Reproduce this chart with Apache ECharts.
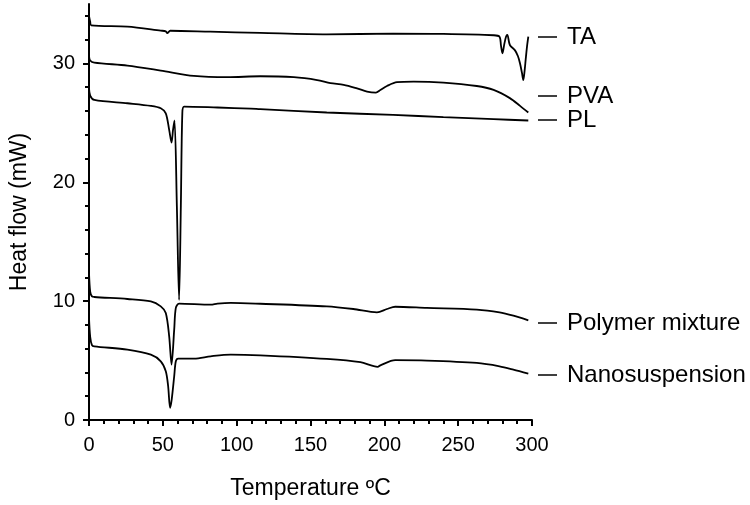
<!DOCTYPE html>
<html><head><meta charset="utf-8">
<script src="https://cdn.jsdelivr.net/npm/echarts@6/dist/echarts.min.js"></script>
<style>html,body{margin:0;padding:0;background:#fff}#c{width:750px;height:505px}</style>
</head><body><div id="c"></div>
<script>
const seriesNames = ['TA', 'PVA', 'PL', 'Polymer mixture', 'Nanosuspension'];
const xTickLabels = [0, 50, 100, 150, 200, 250, 300];
const yTickLabels = [0, 10, 20, 30];
const yMinorTicks = [2, 4, 6, 8, 12, 14, 16, 18, 22, 24, 26, 28, 32, 34];

const taData = [[0,34.0],[0.8,33.5],[1.5,33.2],[26,33.1],[48.6,32.76],[52,32.7],[53,32.55],[55,32.75],[82,32.67],[116,32.57],[161,32.45],[206,32.5],[240,32.48],[274,32.37],[278,32.25],[279,31.5],[280,30.85],[281.2,31.6],[282.4,32.25],[283.3,32.4],[285,31.55],[288.5,31.1],[290.5,30.6],[291.9,30.0],[293.2,29.2],[294.1,28.6],[295,29.4],[295.7,30.3],[296.6,31.4],[297.5,32.25]];
const pvaData = [[0,30.6],[0.8,30.25],[3.6,30.07],[26,29.82],[48.6,29.4],[71,28.95],[93.7,28.84],[116,28.92],[138.7,28.84],[154.5,28.6],[163.5,28.34],[172.5,28.2],[181.5,27.9],[188.3,27.63],[194.3,27.55],[197.3,27.77],[201.8,28.1],[208.6,28.42],[219.8,28.47],[240,28.39],[262.6,28.1],[274,27.77],[285,27.08],[291.9,26.43],[297.5,25.87]];
const plData = [[0,27.9],[0.8,27.3],[3.6,26.93],[26,26.65],[41.9,26.43],[48.6,26.23],[52,25.8],[54.3,24.41],[55.9,23.34],[56.9,24.4],[57.9,25.2],[59.5,18],[61,10.1],[62.2,18],[63.2,25.8],[64.4,26.37],[87,26.29],[109.5,26.2],[116,26.15],[161,25.87],[206,25.67],[240,25.48],[274,25.31],[297.5,25.2]];
const polyData = [[0,12.4],[0.8,10.8],[2,10.4],[3.6,10.35],[26,10.18],[41.9,9.98],[48.6,9.56],[52,9.0],[54.3,7.04],[55.9,4.66],[57.7,7.6],[58.8,9.43],[61,9.79],[82.4,9.7],[87,9.79],[96,9.85],[116,9.78],[161,9.56],[179,9.34],[195,9.06],[201.8,9.34],[207.4,9.53],[228.8,9.43],[262.6,9.29],[278,9.06],[287.4,8.78],[297.5,8.39]];
const nanoData = [[0,8.6],[0.8,7.0],[2,6.3],[3.6,6.2],[26,5.92],[41.9,5.5],[48.6,4.94],[52,4.1],[53.6,2.84],[54.9,1.03],[56,1.72],[57.7,3.68],[58.8,4.94],[60.4,5.17],[71.2,5.17],[82.4,5.36],[96,5.5],[116,5.44],[161,5.14],[183.8,4.86],[195.5,4.47],[197.3,4.6],[207.4,5.03],[228.8,5.0],[262.6,4.8],[278,4.52],[287.4,4.24],[297.5,3.9]];
const allData = [taData, pvaData, plData, polyData, nanoData];
const labelY = [37, 96, 120, 323, 375];

const font = 'Liberation Sans, Arial, sans-serif';
const chart = echarts.init(document.getElementById('c'));
const graphic = [];
seriesNames.forEach((n, i) => {
  graphic.push({type:'line', shape:{x1:538,y1:labelY[i],x2:557,y2:labelY[i]}, style:{stroke:'#000', lineWidth:1.5}});
  graphic.push({type:'text', left:567, top:labelY[i]-12, style:{text:n, font:'24px ' + font, fill:'#000'}});
});
chart.setOption({
  animation:false,
  grid:{left:88, right:218, top:4, bottom:84},
  graphic: graphic,
  xAxis:{type:'value', min:0, max:300, interval:50,
    name:'Temperature ºC', nameLocation:'middle', nameGap:57,
    nameTextStyle:{fontSize:23, fontFamily:font, color:'#000'},
    axisLine:{lineStyle:{color:'#000', width:2}},
    axisTick:{show:true, length:6, lineStyle:{color:'#000', width:2}},
    minorTick:{show:true, splitNumber:5, length:4, lineStyle:{color:'#000', width:2}},
    axisLabel:{fontSize:20, fontFamily:font, color:'#000', margin:15, customValues:xTickLabels},
    splitLine:{show:false}},
  yAxis:[{type:'value', min:0, max:35,
    name:'Heat flow (mW)', nameLocation:'middle', nameGap:58,
    nameTextStyle:{fontSize:23, fontFamily:font, color:'#000'},
    axisLine:{show:true, lineStyle:{color:'#000', width:2}},
    axisTick:{show:true, length:6, customValues:yTickLabels, lineStyle:{color:'#000', width:2}},
    axisLabel:{fontSize:20, fontFamily:font, color:'#000', margin:14, customValues:yTickLabels},
    splitLine:{show:false}},
   {type:'value', min:0, max:35, position:'left',
    axisLine:{show:false},
    axisTick:{show:true, length:4, customValues:yMinorTicks, lineStyle:{color:'#000', width:2}},
    axisLabel:{show:false}, splitLine:{show:false}}],
  series: allData.map((d, i) => ({
    name: seriesNames[i], type:'line', data:d, showSymbol:false, symbol:'none',
    smooth:0.3, lineStyle:{color:'#000', width:1.8}, z:3
  }))
});
</script></body></html>
